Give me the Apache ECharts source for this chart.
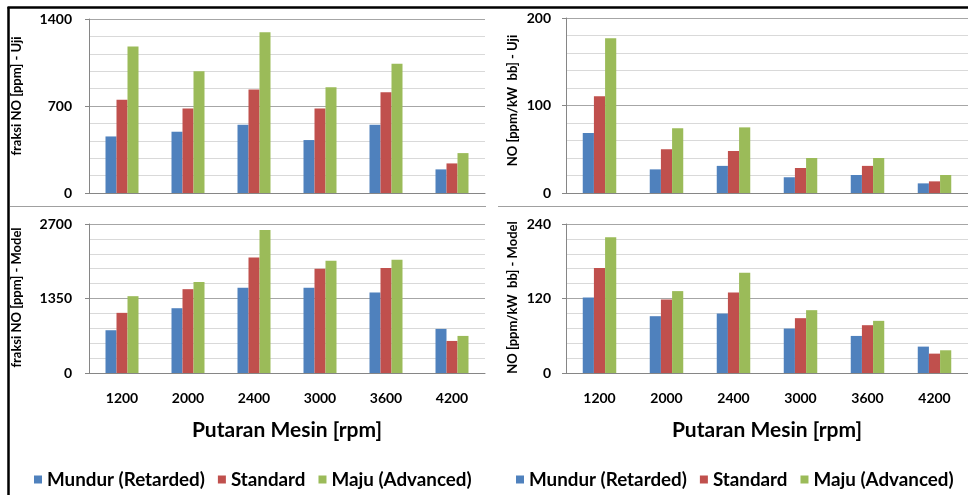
<!DOCTYPE html>
<html>
<head>
<meta charset="utf-8">
<script src="https://cdn.jsdelivr.net/npm/echarts@6/dist/echarts.min.js"></script>
<style>
html,body{margin:0;padding:0;background:#fff;}
#chart{width:968px;height:495px;}
</style>
</head>
<body>
<div id="chart"></div>
<script>
// ---- data ----
var categories = ['1200', '2000', '2400', '3000', '3600', '4200'];
var seriesNames = ['Mundur (Retarded)', 'Standard', 'Maju (Advanced)'];
// fraksi NO [ppm] - Uji
var ppmUjiMundur   = [455, 493, 549, 426, 549, 190];
var ppmUjiStandard = [750, 680, 832, 680, 811, 238];
var ppmUjiMaju     = [1178, 980, 1293, 851, 1039, 321];
// fraksi NO [ppm] - Model
var ppmModelMundur   = [775, 1174, 1544, 1544, 1459, 799];
var ppmModelStandard = [1090, 1519, 2095, 1889, 1901, 581];
var ppmModelMaju     = [1392, 1647, 2591, 2034, 2052, 672];
// NO [ppm/kW bb] - Uji
var kwUjiMundur   = [68.6, 27, 31, 18, 20.6, 11];
var kwUjiStandard = [110.5, 50, 48, 28.6, 31, 13.3];
var kwUjiMaju     = [177, 74, 75, 40, 40, 20.6];
// NO [ppm/kW bb] - Model
var kwModelMundur   = [121.6, 91.5, 95.8, 71.6, 59.7, 42.5];
var kwModelStandard = [169, 118.4, 129.7, 88.3, 77, 31.2];
var kwModelMaju     = [218.5, 131.9, 161.5, 101.2, 84, 36.6];
// axis ticks
var yTicksPpmUji = [0, 700, 1400];
var yTicksPpmModel = [0, 1350, 2700];
var yTicksKwUji = [0, 100, 200];
var yTicksKwModel = [0, 120, 240];

var colors = ['#4F81BD', '#C0504D', '#9BBB59'];
var FONT = 'Lato';

function grid(left, top, width, height) {
  return {left: left, top: top, width: width, height: height, containLabel: false};
}
function xAxis(gi, showLabels) {
  var ax = {
    type: 'category', gridIndex: gi, data: categories,
    axisLine: {show: true, lineStyle: {color: '#868686', width: 1}},
    axisTick: {show: false},
    axisLabel: {show: showLabels, margin: 18, color: '#000', fontFamily: FONT, fontWeight: 'bold', fontSize: 14},
    splitLine: {show: false}
  };
  if (showLabels) {
    ax.name = 'Putaran Mesin [rpm]';
    ax.nameLocation = 'middle';
    ax.nameGap = 47;
    ax.nameTextStyle = {color: '#000', fontFamily: FONT, fontWeight: 'bold', fontSize: 21};
  }
  return ax;
}
function yAxis(gi, ticks, name, nameGap, labelMargin, shiftUp) {
  var max = ticks[ticks.length - 1];
  return {
    type: 'value', gridIndex: gi, min: 0, max: max, interval: ticks[1] - ticks[0],
    name: name, nameLocation: 'middle', nameGap: nameGap,
    nameTextStyle: {color: '#000', fontFamily: FONT, fontWeight: 'bold', fontSize: 13,
      padding: [0, 0, 0, shiftUp * 2]},
    axisLine: {show: true, lineStyle: {color: '#868686', width: 1}},
    axisTick: {show: true, length: 4, lineStyle: {color: '#868686'}},
    axisLabel: {margin: labelMargin, color: '#000', fontFamily: FONT, fontWeight: 'bold', fontSize: 14,
      formatter: function (v) { return String(v); }},
    splitLine: {show: true, lineStyle: {color: '#A6A6A6', width: 1}},
    minorTick: {show: false, splitNumber: 5},
    minorSplitLine: {show: true, lineStyle: {color: '#D9D9D9', width: 1}}
  };
}
function bars(gi, arrs) {
  return arrs.map(function (d, i) {
    return {
      type: 'bar', name: seriesNames[i], xAxisIndex: gi, yAxisIndex: gi, data: d,
      barGap: '0%', barCategoryGap: '50%',
      itemStyle: {color: colors[i]}, silent: true, animation: false
    };
  });
}

var legendStyle = {color: '#000', fontFamily: FONT, fontWeight: 'bold', fontSize: 18.8};

var option = {
  animation: false,
  color: colors,
  grid: [
    grid(89, 19, 396, 174),
    grid(89, 224, 396, 149),
    grid(566, 18, 405, 175),
    grid(566, 224, 405, 149)
  ],
  xAxis: [xAxis(0, false), xAxis(1, true), xAxis(2, false), xAxis(3, true)],
  yAxis: [
    yAxis(0, yTicksPpmUji, 'fraksi NO [ppm] - Uji', 66, 17, 10),
    yAxis(1, yTicksPpmModel, 'fraksi NO [ppm] - Model', 66, 17, 1),
    yAxis(2, yTicksKwUji, 'NO [ppm/kW  bb] - Uji', 47, 15, 5),
    yAxis(3, yTicksKwModel, 'NO [ppm/kW  bb] - Model', 47, 15, 1)
  ],
  legend: [
    {left: 29, top: 465, itemWidth: 8, itemHeight: 8, itemGap: 13, icon: 'rect',
      data: seriesNames, textStyle: legendStyle, selectedMode: false},
    {left: 511, top: 465, itemWidth: 8, itemHeight: 8, itemGap: 13, icon: 'rect',
      data: seriesNames, textStyle: legendStyle, selectedMode: false}
  ],
  series: [].concat(
    bars(0, [ppmUjiMundur, ppmUjiStandard, ppmUjiMaju]),
    bars(1, [ppmModelMundur, ppmModelStandard, ppmModelMaju]),
    bars(2, [kwUjiMundur, kwUjiStandard, kwUjiMaju]),
    bars(3, [kwModelMundur, kwModelStandard, kwModelMaju])
  ),
  graphic: [
    {type: 'line', shape: {x1: 8.5, y1: 7, x2: 8.5, y2: 495}, style: {stroke: '#000', lineWidth: 2.5}, silent: true},
    {type: 'line', shape: {x1: 7.5, y1: 7.5, x2: 968, y2: 7.5}, style: {stroke: '#000', lineWidth: 2.5}, silent: true},
    {type: 'line', shape: {x1: 10, y1: 206.5, x2: 486, y2: 206.5}, style: {stroke: '#A0A0A0', lineWidth: 1}, silent: true},
    {type: 'line', shape: {x1: 498, y1: 206.5, x2: 968, y2: 206.5}, style: {stroke: '#A0A0A0', lineWidth: 1}, silent: true}
  ]
};

var chart = echarts.init(document.getElementById('chart'), null, {renderer: 'canvas'});
chart.setOption(option);
</script>
</body>
</html>
